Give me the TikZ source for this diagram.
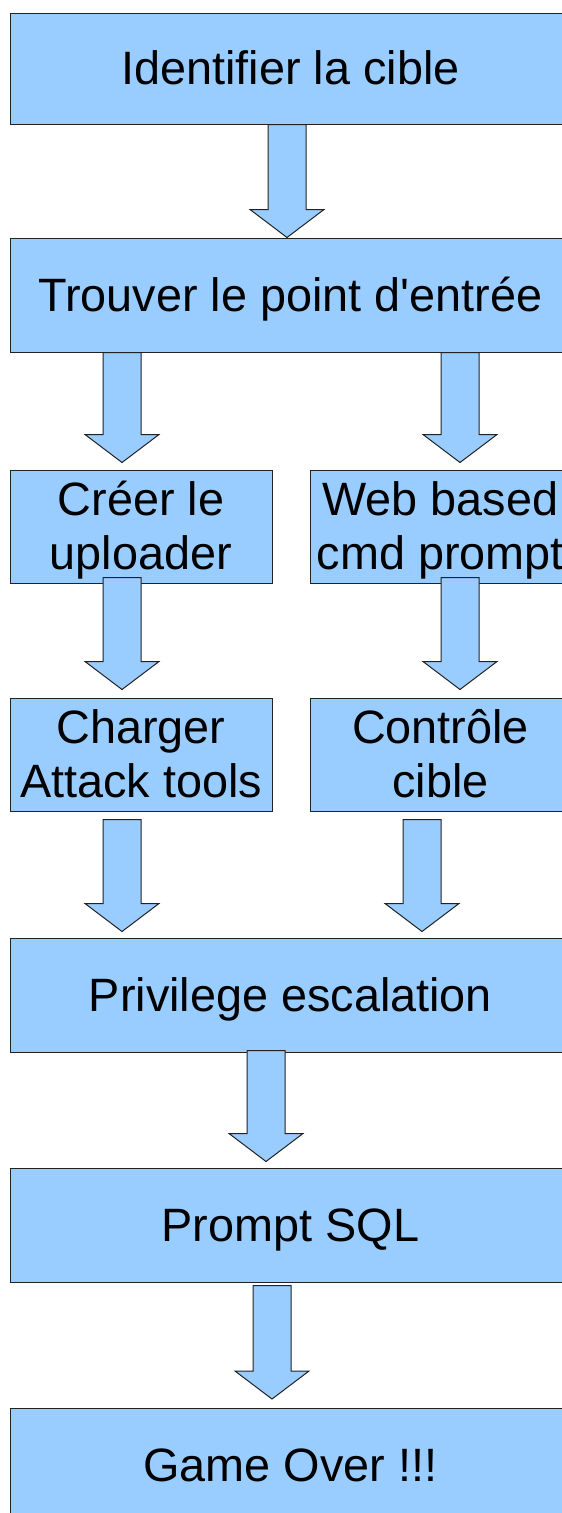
\documentclass[tikz,border=0pt]{standalone}
\usepackage{fontspec}
\setmainfont{Liberation Sans}[Ligatures=TeXOff]
\usetikzlibrary{calc}
\definecolor{boxblue}{HTML}{99CCFF}
\definecolor{edge}{HTML}{222222}
% strut giving every line the same ascent/descent
\newcommand\fl{\rule[-0.212em]{0pt}{1.117em}}
% block arrow: #1 source node, #2 target node, #3 centre x,
% #4 shaft start below source (px), #5 gap between tip and target (px)
\newcommand\flowarrow[5]{%
  \draw[arrowbody] let \p1=(#1.south), \p2=(#2.north) in
    ({(#3-19)*1pt},{\y1-(#4)*1pt}) -- ({(#3+19)*1pt},{\y1-(#4)*1pt})
    -- ({(#3+19)*1pt},{\y2+(#5)*1pt+28pt}) -- ({(#3+37)*1pt},{\y2+(#5)*1pt+28pt})
    -- ({#3*1pt},{\y2+(#5)*1pt}) -- ({(#3-37)*1pt},{\y2+(#5)*1pt+28pt})
    -- ({(#3-19)*1pt},{\y2+(#5)*1pt+28pt}) -- cycle;}
\begin{document}
\begin{tikzpicture}[x=1pt,y=-1pt,
  stepbox/.style={draw=edge, fill=boxblue, line width=1pt, inner sep=0pt,
    align=center, font=\fontsize{46.8}{53.8}\selectfont},
  arrowbody/.style={draw=edge, fill=boxblue, line width=1pt, line join=miter}]
\useasboundingbox (0,0) rectangle (562,1513);
\clip (0,0) rectangle (562,1513);

% steps
\node[stepbox, minimum width=561pt, minimum height=111pt] (ident) at (290.5,68.5) {\fl Identifier la cible};
\node[stepbox, minimum width=561pt, minimum height=114pt] (entry) at (290.5,295) {\fl Trouver le point d'entrée};
\node[stepbox, minimum width=262pt, minimum height=113pt] (upl) at (141,526.5) {\fl Créer le\\\fl uploader};
\node[stepbox, minimum width=261pt, minimum height=113pt] (web) at (440.5,526.5) {\fl Web based\\\fl cmd prompt};
\node[stepbox, minimum width=262pt, minimum height=113pt] (load) at (141,754.5) {\fl Charger\\\fl Attack tools};
\node[stepbox, minimum width=261pt, minimum height=113pt] (ctrl) at (440.5,754.5) {\fl Contrôle\\\fl cible};
\node[stepbox, minimum width=561pt, minimum height=114pt] (priv) at (290.5,995) {\fl Privilege escalation};
\node[stepbox, minimum width=561pt, minimum height=114pt] (sql) at (290.5,1225) {\fl Prompt SQL};
\node[stepbox, minimum width=561pt, minimum height=113pt] (over) at (290.5,1465) {\fl Game Over !!!};

% connectors
\flowarrow{ident}{entry}{287}{0}{0}
\flowarrow{entry}{upl}{122}{0}{7}
\flowarrow{entry}{web}{460}{0}{7}
\flowarrow{upl}{load}{122}{-6}{8}
\flowarrow{web}{ctrl}{460}{-6}{8}
\flowarrow{load}{priv}{122}{8}{6}
\flowarrow{ctrl}{priv}{422}{8}{6}
\flowarrow{priv}{sql}{266}{-2}{6}
\flowarrow{sql}{over}{272}{3}{9}
\end{tikzpicture}
\end{document}
